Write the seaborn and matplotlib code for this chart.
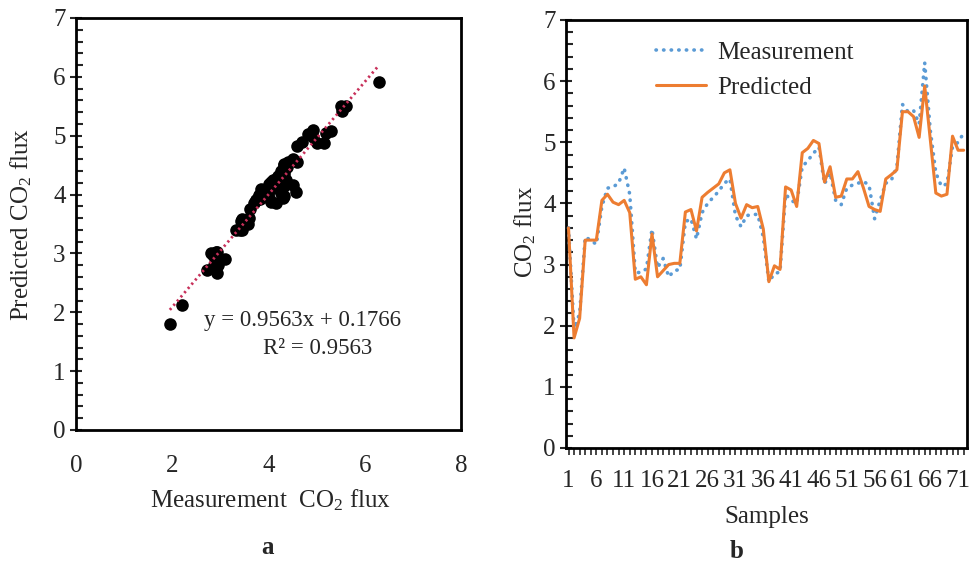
import numpy as np
import pandas as pd
import matplotlib
matplotlib.use("Agg")
import matplotlib.pyplot as plt
from matplotlib.ticker import MultipleLocator, FixedLocator
import seaborn as sns

# ---------------- data ----------------
samples = list(range(1, 73))
measurement = [3.6, 1.95, 2.2, 3.45, 3.4, 3.33, 3.95, 4.25, 4.27, 4.33,
               4.58, 4.15, 2.87, 2.87, 2.93, 3.58, 2.95, 3.1, 2.8, 2.9,
               2.92, 3.7, 3.75, 3.42, 3.85, 4.0, 4.1, 4.2, 4.33, 4.4,
               3.8, 3.62, 3.8, 3.82, 3.82, 3.45, 2.72, 2.85, 2.88, 4.15,
               4.05, 4.0, 4.6, 4.7, 4.82, 4.92, 4.32, 4.5, 4.05, 3.98,
               4.25, 4.3, 4.33, 4.36, 4.3, 3.75, 4.05, 4.33, 4.38, 4.6,
               5.62, 5.5, 5.52, 5.3, 6.3, 5.2, 4.5, 4.28, 4.32, 4.93,
               5.0, 5.15]
predicted = [3.6, 1.8, 2.12, 3.4, 3.4, 3.4, 4.05, 4.15, 4.02, 3.98,
             4.05, 3.85, 2.76, 2.8, 2.67, 3.5, 2.8, 2.9, 3.0, 3.02,
             3.02, 3.86, 3.9, 3.55, 4.1, 4.18, 4.25, 4.32, 4.5, 4.55,
             4.0, 3.76, 3.98, 3.93, 3.95, 3.58, 2.72, 2.98, 2.92, 4.27,
             4.22, 3.95, 4.83, 4.9, 5.03, 4.98, 4.35, 4.6, 4.1, 4.12,
             4.4, 4.4, 4.52, 4.25, 3.95, 3.9, 3.87, 4.4, 4.47, 4.55,
             5.5, 5.5, 5.42, 5.08, 5.92, 5.05, 4.17, 4.12, 4.15, 5.1,
             4.87, 4.87]
fit_slope = 0.9563
fit_intercept = 0.1766
r_squared = 0.9563
x_sample_ticks = list(range(1, 72, 5))
series_names = ["Measurement", "Predicted"]

# ---------------- style ----------------
sns.set_style("white")
plt.rcParams["font.family"] = ["Liberation Serif", "DejaVu Serif"]
plt.rcParams["mathtext.fontset"] = "custom"
plt.rcParams["mathtext.rm"] = "Liberation Serif"
plt.rcParams["mathtext.it"] = "Liberation Serif:italic"
plt.rcParams["mathtext.bf"] = "Liberation Serif:bold"

W, H = 976, 561
fig = plt.figure(figsize=(W / 100, H / 100), dpi=100)

def px_axes(l, t, r, b):
    return fig.add_axes([l / W, 1 - b / H, (r - l) / W, (b - t) / H])

ax1 = px_axes(76, 18, 461, 430)
ax2 = px_axes(566, 20, 967, 448)

tick_fs = 18
eq_fs = 16.5
label_fs = 18

# ---------------- left: scatter ----------------
df = pd.DataFrame({"Measurement": measurement, "Predicted": predicted})
sns.scatterplot(data=df, x="Measurement", y="Predicted", ax=ax1,
                color="black", s=82, linewidth=0, zorder=3)
xfit = np.array([df["Measurement"].min(), df["Measurement"].max()])
sns.lineplot(x=xfit, y=fit_slope * xfit + fit_intercept, ax=ax1,
             color="#C8305A", lw=2, linestyle=(0, (0.8, 1.2)), zorder=4)
ax1.set_xlim(0, 8)
ax1.set_ylim(0, 7)
ax1.xaxis.set_major_locator(MultipleLocator(2))
ax1.yaxis.set_major_locator(MultipleLocator(1))
ax1.yaxis.set_minor_locator(MultipleLocator(0.2))
ax1.tick_params(axis="x", which="both", length=0, pad=18, labelsize=tick_fs)
ax1.tick_params(axis="y", which="major", direction="inout", length=9,
                width=1.5, pad=3, labelsize=tick_fs, left=True)
ax1.tick_params(axis="y", which="minor", direction="in", length=5,
                width=1.5, left=True)
ax1.set_xlabel("Measurement  CO$_2$ flux", fontsize=label_fs)
ax1.set_ylabel("Predicted CO$_2$ flux", fontsize=label_fs)
ax1.xaxis.set_label_coords(0.505, -0.14)
ax1.yaxis.set_label_coords(-0.108, 0.5)
ax1.text(0.588, 0.265, f"y = {fit_slope}x + {fit_intercept}",
         transform=ax1.transAxes, ha="center", va="center", fontsize=eq_fs)
ax1.text(0.628, 0.198, f"R² = {r_squared}",
         transform=ax1.transAxes, ha="center", va="center", fontsize=eq_fs)

# ---------------- right: lines ----------------
sns.lineplot(x=samples, y=measurement, ax=ax2, color="#5B9BD5", lw=2.6,
             linestyle=(0, (0.1, 2.0)), label=series_names[0], zorder=3)
sns.lineplot(x=samples, y=predicted, ax=ax2, color="#ED7D31", lw=2.2,
             label=series_names[1], zorder=4)
ax2.lines[0].set_dash_capstyle("round")
ax2.set_xlim(0.55, 72.6)
ax2.set_ylim(0, 7)
ax2.xaxis.set_major_locator(FixedLocator(x_sample_ticks))
ax2.set_xticklabels([str(v) for v in x_sample_ticks])
ax2.xaxis.set_minor_locator(MultipleLocator(1))
ax2.yaxis.set_major_locator(MultipleLocator(1))
ax2.yaxis.set_minor_locator(MultipleLocator(0.2))
ax2.tick_params(axis="x", which="both", direction="out", length=5,
                width=1.2, bottom=True, pad=11, labelsize=tick_fs)
ax2.tick_params(axis="y", which="major", direction="inout", length=9,
                width=1.5, pad=3, labelsize=tick_fs, left=True)
ax2.tick_params(axis="y", which="minor", direction="in", length=5,
                width=1.5, left=True)
ax2.set_xlabel("Samples", fontsize=label_fs)
ax2.set_ylabel("CO$_2$ flux", fontsize=label_fs)
ax2.xaxis.set_label_coords(0.5, -0.135)
ax2.yaxis.set_label_coords(-0.07, 0.505)
leg = ax2.legend(loc="upper left", bbox_to_anchor=(0.225, 0.95),
                 frameon=False, fontsize=label_fs, handlelength=2.0,
                 handletextpad=0.45, labelspacing=0.5, borderpad=0,
                 borderaxespad=0)

for ax in (ax1, ax2):
    for sp in ax.spines.values():
        sp.set_visible(True)
        sp.set_color("black")
        sp.set_linewidth(2)

fig.text(268 / W, 1 - 548 / H, "a", ha="center", va="center",
         fontsize=label_fs, fontweight="bold")
fig.text(737 / W, 1 - 551 / H, "b", ha="center", va="center",
         fontsize=label_fs, fontweight="bold")

fig.savefig("out.png", dpi=100)
